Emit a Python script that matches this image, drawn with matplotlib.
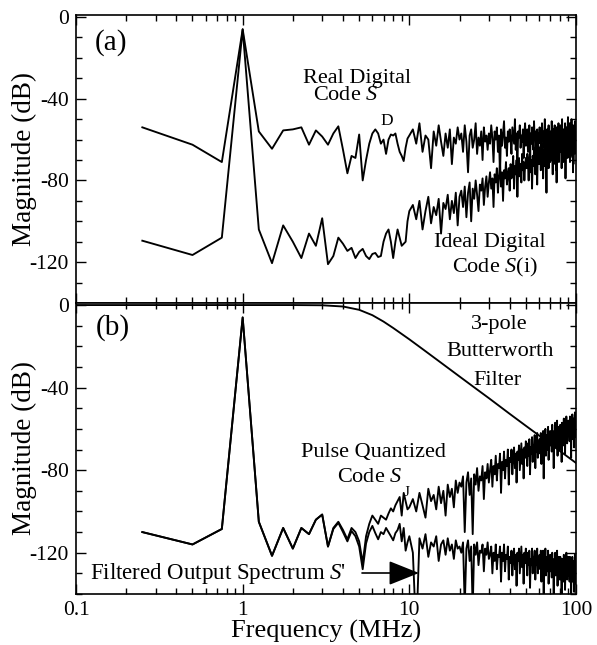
import numpy as np
import matplotlib.pyplot as plt
from matplotlib.ticker import FixedLocator, FixedFormatter, LogLocator, MultipleLocator, NullFormatter

plt.rcParams['font.family'] = ['Liberation Serif', 'DejaVu Serif']
plt.rcParams['mathtext.fontset'] = 'custom'
plt.rcParams['mathtext.rm'] = 'Liberation Serif'
plt.rcParams['mathtext.it'] = 'Liberation Serif:italic'
plt.rcParams['axes.unicode_minus'] = False

# frequency bins in MHz: 0.25 MHz steps up to 10 MHz, 0.5 MHz steps up to 100 MHz
freq = np.concatenate([np.arange(1, 41) * 0.25, np.arange(21, 201) * 0.5])

# (a) real digital code S_D, dB
real_sd = [
    -54, -62.5, -71, -6, -56, -64.5, -55.5, -55, -54, -62.5,
    -55.5, -58.5, -62.5, -57, -53.5, -65, -76.5, -68, -69, -57.5,
    -80, -70, -62, -57, -55, -57, -62, -60, -67, -60,
    -57.5, -58, -57, -62, -66, -68, -70.5, -64, -59.5, -58,
    # 10.5 .. 100 MHz
    -55, -62, -52, -66, -58, -60, -74, -56, -63, -53,
    -61, -68, -57, -64, -55, -72, -59, -62, -54, -60,
    -57, -66, -53, -61, -76, -58, -55, -64, -60, -52,
    -67, -59, -63, -56, -70, -54, -61, -58, -65, -57,
    -62, -53, -59, -71, -56, -60, -54, -66, -58, -78,
    -55, -63, -57, -51, -64, -59, -68, -56, -61, -55,
    -60, -67, -54, -58, -62, -50, -65, -57, -73, -56,
    -59, -53, -64, -58, -61, -55, -69, -57, -52, -63,
    -58, -55, -66, -60, -53, -71, -57, -62, -54, -59,
    -65, -51, -60, -56, -74, -58, -55, -63, -57, -61,
    -54, -62, -58, -67, -52, -60, -56, -64, -59, -50,
    -66, -57, -61, -55, -70, -58, -53, -63, -57, -60,
    -56, -64, -51, -59, -62, -55, -68, -57, -53, -61,
    -58, -75, -54, -60, -56, -65, -52, -59, -62, -55,
    -60, -53, -66, -57, -50, -62, -58, -55, -71, -56,
    -61, -52, -64, -57, -59, -54, -67, -56, -49, -61,
    -57, -63, -52, -58, -69, -55, -60, -50, -65, -56,
    -59, -53, -72, -57, -54, -61, -51, -66, -56, -58,
]

# (a) ideal digital code S(i), dB
ideal_si = [
    -109.5, -116.5, -108, -6, -104, -120.5, -102, -110, -118, -106,
    -112, -98.5, -121, -117, -108, -111, -114.5, -113, -118, -115,
    -113.5, -117, -118.5, -116, -115.5, -117.5, -117, -110, -106, -104,
    -110, -118, -110, -104, -108, -112, -111, -110, -100, -95,
    # 10.5 .. 100 MHz
    -92, -99, -90, -104, -95, -88, -101, -93, -97, -89,
    -106, -91, -94, -87, -99, -90, -96, -86, -102, -88,
    -85, -93, -83, -98, -86, -81, -100, -84, -89, -80,
    -87, -95, -82, -85, -79, -92, -83, -78, -88, -81,
    -76, -84, -79, -93, -77, -81, -74, -86, -78, -72,
    -83, -76, -90, -75, -79, -71, -82, -77, -74, -85,
    -72, -79, -75, -68, -84, -73, -77, -70, -88, -74,
    -69, -78, -72, -81, -67, -75, -71, -80, -73, -69,
    -74, -67, -72, -80, -69, -65, -76, -70, -84, -68,
    -73, -64, -71, -77, -66, -70, -82, -67, -63, -72,
    -69, -64, -75, -66, -71, -62, -79, -67, -65, -73,
    -60, -68, -86, -64, -70, -61, -74, -66, -63, -71,
    -65, -70, -61, -67, -77, -63, -59, -69, -64, -72,
    -60, -66, -81, -62, -68, -58, -65, -71, -61, -64,
    -66, -59, -63, -74, -61, -57, -67, -62, -70, -58,
    -64, -60, -79, -61, -56, -66, -63, -69, -58, -62,
    -60, -65, -57, -71, -61, -55, -64, -59, -68, -56,
    -62, -76, -58, -54, -63, -60, -67, -57, -53, -61,
]

# (b) pulse quantized code S_J, dB
pulse_sj = [
    -110, -116, -108.5, -6, -105, -121.5, -108, -118, -108, -111,
    -104, -101.5, -117, -108, -105, -109, -113.5, -108, -110, -114.5,
    -125, -112, -106, -102, -104, -106, -102, -103, -104, -101,
    -98.5, -100, -97, -95, -93, -102, -91, -95, -99, -98,
    # 10.5 .. 100 MHz
    -94, -100, -91, -97, -103, -89, -95, -92, -99, -88,
    -96, -90, -102, -87, -93, -89, -98, -85, -91, -86,
    -88, -83, -110, -86, -81, -92, -84, -111, -82, -87,
    -79, -90, -83, -85, -78, -94, -81, -84, -77, -86,
    -80, -75, -88, -78, -82, -73, -85, -77, -79, -72,
    -91, -76, -80, -71, -84, -75, -78, -70, -87, -74,
    -76, -70, -82, -73, -69, -79, -72, -86, -71, -75,
    -68, -80, -73, -67, -77, -70, -84, -69, -74, -66,
    -71, -78, -67, -73, -65, -82, -69, -72, -64, -76,
    -68, -70, -63, -79, -66, -71, -62, -74, -67, -69,
    -65, -72, -62, -77, -66, -69, -61, -84, -64, -68,
    -60, -73, -65, -63, -70, -59, -75, -64, -67, -61,
    -68, -62, -71, -58, -66, -63, -79, -61, -65, -57,
    -69, -62, -64, -56, -73, -60, -66, -59, -63, -70,
    -58, -65, -61, -76, -57, -63, -60, -68, -55, -62,
    -59, -72, -57, -64, -54, -61, -67, -58, -60, -56,
    -63, -57, -66, -54, -61, -59, -74, -56, -60, -53,
    -65, -58, -62, -55, -69, -57, -52, -61, -59, -64,
]

# (b) filtered output spectrum S', dB
filtered_sp = [
    -110, -116, -108.5, -6, -105, -121.5, -108, -118, -108, -111,
    -104, -101.5, -117, -108.5, -105.5, -110, -114.5, -109.5, -112, -117,
    -128, -115.5, -110, -107, -110.5, -113.5, -110, -111, -108, -110,
    -112, -114, -110.5, -109, -106, -114.5, -108, -119, -115, -112,
    # 10.5 .. 100 MHz
    -120, -160, -113, -118, -111, -122, -115, -117, -112, -124,
    -116, -114, -121, -113, -119, -116, -123, -114, -118, -117,
    -120, -115, -146, -118, -114, -124, -117, -148, -116, -121,
    -115, -126, -119, -120, -116, -129, -118, -121, -115, -123,
    -121, -117, -130, -120, -124, -116, -128, -121, -122, -117,
    -134, -120, -124, -116, -129, -121, -123, -117, -133, -122,
    -125, -119, -131, -122, -118, -128, -121, -136, -120, -124,
    -118, -130, -123, -117, -127, -121, -135, -120, -125, -118,
    -124, -131, -120, -126, -119, -137, -123, -126, -118, -130,
    -122, -125, -119, -133, -121, -126, -118, -130, -123, -125,
    -121, -128, -119, -134, -123, -126, -119, -142, -122, -126,
    -118, -131, -124, -122, -129, -119, -135, -124, -127, -121,
    -129, -123, -132, -120, -128, -125, -141, -123, -127, -120,
    -131, -125, -127, -119, -136, -123, -129, -122, -126, -133,
    -122, -130, -126, -141, -123, -128, -125, -134, -121, -128,
    -125, -138, -123, -130, -120, -127, -133, -125, -127, -122,
    -131, -125, -134, -122, -130, -128, -145, -125, -129, -122,
    -134, -128, -131, -124, -139, -127, -121, -131, -129, -135,
]

# 3-pole Butterworth filter response
filter_f = [0.1, 2, 3, 4, 5, 6, 7, 8, 10, 12, 15, 20, 25, 30, 40, 50, 60, 70, 80, 100]
filter_db = [0, 0, -0.1, -0.7, -2.3, -4.9, -8.0, -11.1, -16.6, -21.3, -27.1,
             -34.6, -40.4, -45.1, -52.7, -58.5, -63.2, -67.3, -70.7, -76.5]

xticks = [0.1, 1, 10, 100]
xtick_labels = ['0.1', '1', '10', '100']
yticks = [0, -40, -80, -120]

W, H = 597, 645


def fx(x):
    return x / W


def fy(y):
    return 1 - y / H


fig = plt.figure(figsize=(W / 100, H / 100), dpi=100)
ax_a = fig.add_axes([fx(76), fy(303), (576 - 76) / W, (303 - 15) / H])
ax_b = fig.add_axes([fx(76), fy(594), (576 - 76) / W, (594 - 303) / H])

lw = 1.35
ax_a.plot(freq, real_sd, color='black', lw=lw)
ax_a.plot(freq, ideal_si, color='black', lw=lw)
ax_b.plot(freq, pulse_sj, color='black', lw=lw)
ax_b.plot(freq, filtered_sp, color='black', lw=lw)
ax_b.plot(filter_f, filter_db, color='black', lw=lw)

for ax in (ax_a, ax_b):
    ax.set_xscale('log')
    ax.set_xlim(0.1, 100)
    ax.set_ylim(-140, 1)
    ax.xaxis.set_major_locator(FixedLocator(xticks))
    ax.xaxis.set_minor_locator(LogLocator(base=10, subs=np.arange(2, 10)))
    ax.xaxis.set_minor_formatter(NullFormatter())
    ax.yaxis.set_major_locator(FixedLocator(yticks))
    ax.yaxis.set_minor_locator(MultipleLocator(10))
    ax.tick_params(which='both', direction='in', top=True, right=True,
                   labelsize=15.5, width=1)
    ax.tick_params(which='major', length=7, pad=5)
    ax.tick_params(which='minor', length=4.5)
    for s in ax.spines.values():
        s.set_linewidth(1.2)

ax_a.xaxis.set_major_formatter(NullFormatter())
ax_b.xaxis.set_major_formatter(FixedFormatter(xtick_labels))

# axis titles
fig.text(fx(24), fy(159), 'Magnitude (dB)', rotation=90, ha='center', va='center', fontsize=19.5)
fig.text(fx(24), fy(448), 'Magnitude (dB)', rotation=90, ha='center', va='center', fontsize=19.5)
fig.text(fx(326), fy(631), 'Frequency (MHz)', ha='center', va='center', fontsize=19)

# panel tags and curve labels
fig.text(fx(111), fy(43), '(a)', ha='center', va='center', fontsize=21)
fig.text(fx(113), fy(328), '(b)', ha='center', va='center', fontsize=21)

fs = 16
fig.text(fx(357), fy(78), 'Real Digital', ha='center', va='center', fontsize=fs)
fig.text(fx(346), fy(96), 'Code $S$', ha='center', va='center', fontsize=fs)
fig.text(fx(387), fy(121), 'D', ha='center', va='center', fontsize=12.5)
fig.text(fx(490), fy(243), 'Ideal Digital', ha='center', va='center', fontsize=fs)
fig.text(fx(495), fy(267), 'Code $S$(i)', ha='center', va='center', fontsize=fs)
fig.text(fx(499), fy(325), '3-pole', ha='center', va='center', fontsize=fs)
fig.text(fx(500), fy(352), 'Butterworth', ha='center', va='center', fontsize=fs)
fig.text(fx(497), fy(380), 'Filter', ha='center', va='center', fontsize=fs)
fig.text(fx(373), fy(453), 'Pulse Quantized', ha='center', va='center', fontsize=fs)
fig.text(fx(370), fy(478), 'Code $S$', ha='center', va='center', fontsize=fs)
fig.text(fx(407), fy(493), 'J', ha='center', va='center', fontsize=11)
fig.text(fx(90), fy(573), "Filtered Output Spectrum $S$'", ha='left', va='center', fontsize=16.5)

ax_b.annotate('', xy=(fx(419), fy(573)), xycoords='figure fraction',
              xytext=(fx(362), fy(573)), textcoords='figure fraction',
              arrowprops=dict(arrowstyle='-|>,head_length=0.95,head_width=0.38',
                              mutation_scale=20, color='black', lw=1.2,
                              shrinkA=0, shrinkB=0))

fig.savefig('out.png', dpi=100)
